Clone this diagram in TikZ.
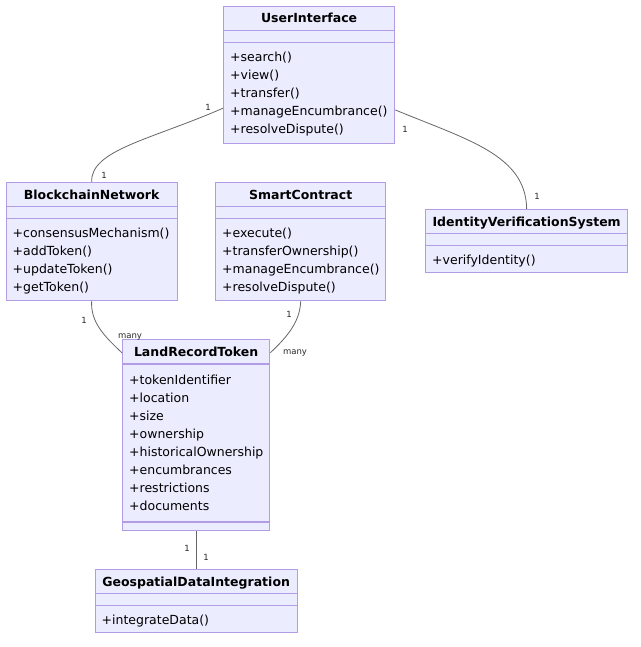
\documentclass[tikz,border=0pt]{standalone}
\usepackage{fontspec}
\setmainfont{DejaVu Sans}
\usetikzlibrary{calc}
\definecolor{clsfill}{HTML}{ECECFF}
\definecolor{clsline}{HTML}{B39CE6}
\definecolor{edgeline}{HTML}{666666}

\begin{document}
\begin{tikzpicture}[x=1pt, y=-1pt,
  cls/.style={draw=clsline, fill=clsfill, line width=1.3pt, inner sep=0, anchor=north west},
  ttl/.style={font=\fontsize{12.5}{15}\selectfont\bfseries, anchor=base, inner sep=0},
  mem/.style={font=\fontsize{12.5}{15}\selectfont, anchor=base west, inner sep=0},
  sep/.style={draw=clsline, line width=1.3pt},
  rel/.style={draw=edgeline, line width=0.8pt},
  mult/.style={font=\fontsize{8.5}{10}\selectfont, text=black!85, inner sep=0}]

\useasboundingbox (0,0) rectangle (640,647);

% UserInterface
\node[cls, minimum width=171pt, minimum height=137pt] (ui) at (223,6) {};
\node[ttl] (ui-t) at ($(ui.north)+(0,17)$) {UserInterface};
\draw[sep] ($(ui.north west)+(0,24.5)$) -- ($(ui.north east)+(0,24.5)$);
\draw[sep] ($(ui.north west)+(0,36.5)$) -- ($(ui.north east)+(0,36.5)$);
\foreach \m [count=\i] in {+search(),+view(),+transfer(),+manageEncumbrance(),+resolveDispute()}
  \node[mem] (ui-\i) at ($(ui.north west)+(7,{55.5+18*(\i-1)})$) {\m};

% BlockchainNetwork
\node[cls, minimum width=171pt, minimum height=118pt] (bn) at (5.5,182) {};
\node[ttl] (bn-t) at ($(bn.north)+(0,17)$) {BlockchainNetwork};
\draw[sep] ($(bn.north west)+(0,24.5)$) -- ($(bn.north east)+(0,24.5)$);
\draw[sep] ($(bn.north west)+(0,36.5)$) -- ($(bn.north east)+(0,36.5)$);
\foreach \m [count=\i] in {+consensusMechanism(),+addToken(),+updateToken(),+getToken()}
  \node[mem] (bn-\i) at ($(bn.north west)+(7,{55.5+18*(\i-1)})$) {\m};

% SmartContract
\node[cls, minimum width=170pt, minimum height=118pt] (sc) at (215,182) {};
\node[ttl] (sc-t) at ($(sc.north)+(0,17)$) {SmartContract};
\draw[sep] ($(sc.north west)+(0,24.5)$) -- ($(sc.north east)+(0,24.5)$);
\draw[sep] ($(sc.north west)+(0,36.5)$) -- ($(sc.north east)+(0,36.5)$);
\foreach \m [count=\i] in {+execute(),+transferOwnership(),+manageEncumbrance(),+resolveDispute()}
  \node[mem] (sc-\i) at ($(sc.north west)+(7,{55.5+18*(\i-1)})$) {\m};

% IdentityVerificationSystem
\node[cls, minimum width=202pt, minimum height=63pt] (ivs) at (425,209) {};
\node[ttl] (ivs-t) at ($(ivs.north)+(0,17)$) {IdentityVerificationSystem};
\draw[sep] ($(ivs.north west)+(0,24.5)$) -- ($(ivs.north east)+(0,24.5)$);
\draw[sep] ($(ivs.north west)+(0,36.5)$) -- ($(ivs.north east)+(0,36.5)$);
\node[mem] (ivs-1) at ($(ivs.north west)+(7,55.5)$) {+verifyIdentity()};

% LandRecordToken
\node[cls, minimum width=147pt, minimum height=191pt] (lrt) at (122,339) {};
\node[ttl] (lrt-t) at ($(lrt.north)+(0,17)$) {LandRecordToken};
\draw[sep] ($(lrt.north west)+(0,25)$) -- ($(lrt.north east)+(0,25)$);
\draw[sep] ($(lrt.north west)+(0,183)$) -- ($(lrt.north east)+(0,183)$);
\foreach \m [count=\i] in {+tokenIdentifier,+location,+size,+ownership,+historicalOwnership,+encumbrances,+restrictions,+documents}
  \node[mem] (lrt-\i) at ($(lrt.north west)+(7,{45.5+18*(\i-1)})$) {\m};

% GeospatialDataIntegration
\node[cls, minimum width=202pt, minimum height=63pt] (geo) at (94.5,569) {};
\node[ttl] (geo-t) at ($(geo.north)+(0,17)$) {GeospatialDataIntegration};
\draw[sep] ($(geo.north west)+(0,24.5)$) -- ($(geo.north east)+(0,24.5)$);
\draw[sep] ($(geo.north west)+(0,36.5)$) -- ($(geo.north east)+(0,36.5)$);
\node[mem] (geo-1) at ($(geo.north west)+(7,55.5)$) {+integrateData()};

% relations
\draw[rel] (ui.201.4) .. controls (150,140) and (90.5,150) .. (bn.north);
\draw[rel] (ui.338.6) .. controls (468,140) and (526,155) .. (ivs.north);
\draw[rel] (bn.south) .. controls (90.5,322) and (104,336) .. (lrt.132);
\draw[rel] (sc.south) .. controls (300,322) and (287,337) .. (lrt.48);
\draw[rel] (lrt.south) -- (geo.north);

% multiplicities
\node[mult] (m1) at (208,107) {1};
\node[mult] (m2) at (104,175) {1};
\node[mult] (m3) at (405,129) {1};
\node[mult] (m4) at (537,196) {1};
\node[mult] (m5) at (84,320) {1};
\node[mult] (m6) at (130,337) {many};
\node[mult] (m7) at (289,314) {1};
\node[mult] (m8) at (295,353) {many};
\node[mult] (m9) at (187,548) {1};
\node[mult] (m10) at (206,557) {1};
\end{tikzpicture}
\end{document}
